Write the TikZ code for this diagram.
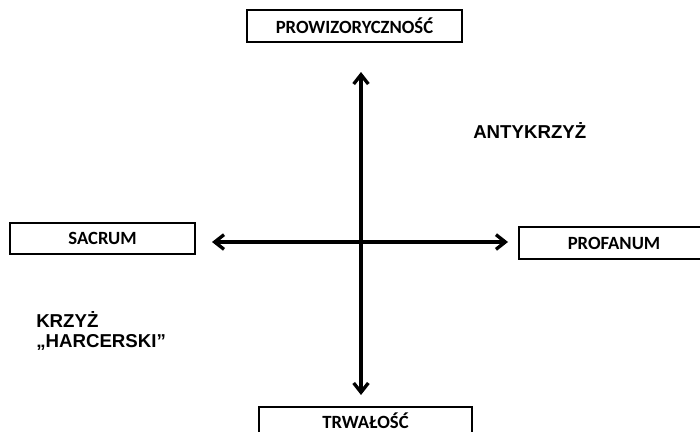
\documentclass[tikz,border=0pt]{standalone}
\usepackage{fontspec}
\setmainfont{Liberation Sans}
\newfontfamily\calfont{Carlito}
\usetikzlibrary{arrows.meta}
\begin{document}
\begin{tikzpicture}[x=0.75pt,y=-0.75pt,
  lbl/.style={draw=black,line width=1.6pt,minimum height=24pt,inner sep=0pt,
    font=\calfont\bfseries\fontsize{14}{16}\selectfont},
  axis/.style={line width=2.5pt,
    {Straight Barb[length=7pt,width=11pt]}-{Straight Barb[length=7pt,width=11pt]}},
  txt/.style={font=\bfseries\fontsize{14}{15}\selectfont,align=left,inner sep=0pt}]
\useasboundingbox (0,0) rectangle (700,432);
\node[lbl,minimum width=161pt] (prow) at (354.5,26) {PROWIZORYCZNOŚĆ};
\node[lbl,minimum width=138.75pt,minimum height=23.25pt] (sacrum) at (102.5,238.5) {SACRUM};
\node[lbl,minimum width=142.5pt] (profanum) at (614,243) {PROFANUM};
\node[lbl,minimum width=160pt,minimum height=21pt] (trwalosc) at (365.5,421) {TRWAŁOŚĆ};
\node[txt,anchor=base west] (anty) at (473,138) {ANTYKRZYŻ};
\node[txt,anchor=base west] (krzyz) at (36,347) {KRZYŻ\\„HARCERSKI”};
\coordinate (vt) at (361,72);
\coordinate (vb) at (361,395);
\coordinate (hl) at (212,242);
\coordinate (hr) at (508,242);
\draw[axis] (vt) -- (vb);
\draw[axis] (hl) -- (hr);
\end{tikzpicture}
\end{document}
